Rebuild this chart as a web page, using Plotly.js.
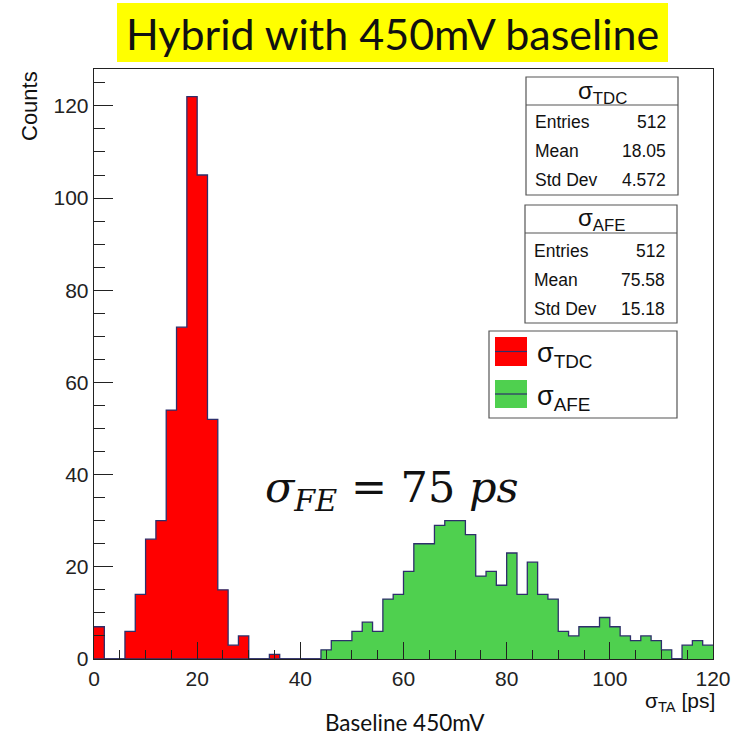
<!DOCTYPE html>
<html>
<head>
<meta charset="utf-8">
<script src="https://cdn.plot.ly/plotly-3.0.1.min.js"></script>
<style>
  html, body { margin: 0; padding: 0; background: #ffffff; }
  #chart { width: 748px; height: 741px; }
</style>
</head>
<body>
<div id="chart"></div>
<script>
// ---- data ----
// bin edges of sigma_TA [ps] (2 ps wide bins from 0 to 120)
const binEdges = [0,2,4,6,8,10,12,14,16,18,20,22,24,26,28,30,32,34,36,38,40,42,44,46,48,50,52,54,56,58,
                  60,62,64,66,68,70,72,74,76,78,80,82,84,86,88,90,92,94,96,98,100,102,104,106,108,110,112,114,116,118,120];
// counts per bin, sigma_TDC
const tdcCounts = [7,0,0,6,14,26,30,54,72,122,105,52,15,3,5,0,0,1,0,0,0,0,0,0,0,0,0,0,0,0,
                   0,0,0,0,0,0,0,0,0,0,0,0,0,0,0,0,0,0,0,0,0,0,0,0,0,0,0,0,0,0];
// counts per bin, sigma_AFE
const afeCounts = [0,0,0,0,0,0,0,0,0,0,0,0,0,0,0,0,0,0,0,0,0,0,2,4,4,6,8,6,13,14,
                   19,25,25,29,30,30,27,18,19,16,23,14,21,14,13,6,5,7,7,9,7,5,4,5,4,2,0,3,4,3];
const tdcStats = {name: "TDC", entries: "512", mean: "18.05", std: "4.572"};
const afeStats = {name: "AFE", entries: "512", mean: "75.58", std: "15.18"};
const xTicks = [0,20,40,60,80,100,120];
const yTicks = [0,20,40,60,80,100,120];

// ---- geometry helpers (pixel -> paper) ----
const L = 94, R = 713, T = 69, B = 659;
const px = x => (x - L) / (R - L);
const py = y => (B - y) / (B - T);

const lineCol = "#2e2f6b";
function histTrace(counts, fill) {
  return {
    type: "scatter", mode: "lines",
    x: binEdges, y: counts.concat([counts[counts.length - 1]]),
    line: {shape: "hv", color: lineCol, width: 1.3},
    fill: "tozeroy", fillcolor: fill,
    hoverinfo: "skip", showlegend: false
  };
}
const traces = [histTrace(tdcCounts, "#ff0000"), histTrace(afeCounts, "#4fd04f")];

const helv = "Liberation Sans, Arial, sans-serif";
const shapes = [];
const annotations = [];

function rect(x0, y0, x1, y1, fill, lc) {
  shapes.push({type: "rect", xref: "paper", yref: "paper", x0: px(x0), x1: px(x1), y0: py(y0), y1: py(y1),
               fillcolor: fill, line: {color: lc, width: lc ? 1.2 : 0}, layer: "above"});
}
function hline(x0, x1, y, col, w) {
  shapes.push({type: "line", xref: "paper", yref: "paper", x0: px(x0), x1: px(x1), y0: py(y), y1: py(y),
               line: {color: col, width: w}, layer: "above"});
}
function txt(text, x, y, xa, size, fam, extra) {
  annotations.push(Object.assign({text: text, xref: "paper", yref: "paper", x: px(x), y: py(y),
    xanchor: xa, yanchor: "middle", showarrow: false,
    font: {family: fam || helv, size: size, color: "#111"}}, extra || {}));
}

// title
rect(117, 3, 668, 62, "#ffff00", null);
txt("Hybrid with 450mV baseline", 392.5, 33, "center", 43, "Lato, sans-serif");

// stats boxes
function statBox(s, x0, y0, x1, y1) {
  rect(x0, y0, x1, y1, "#ffffff", "#555555");
  hline(x0, x1, y0 + 28, "#555555", 1.2);
  txt("σ<sub>" + s.name + "</sub>", (x0 + x1) / 2, y0 + 15, "center", 24);
  const rows = [["Entries", s.entries], ["Mean", s.mean], ["Std Dev", s.std]];
  rows.forEach((r, i) => {
    const yy = y0 + 45.5 + i * 29;
    txt(r[0], x0 + 7, yy, "left", 17.5);
    txt(r[1], x1 - 10, yy, "right", 17.5);
  });
}
statBox(tdcStats, 526, 77, 678, 195);
statBox(afeStats, 525, 205, 677, 323);

// legend
rect(489, 331, 677, 418, "#ffffff", "#555555");
rect(495, 337, 527, 366, "#ff0000", null);
hline(495, 527, 351.5, lineCol, 1.2);
rect(495, 380, 527, 408, "#4fd04f", null);
hline(495, 527, 394, lineCol, 1.2);
txt("σ<sub>TDC</sub>", 535, 355, "left", 27);
txt("σ<sub>AFE</sub>", 535, 398, "left", 27);

// formula
txt("<i>σ</i><sub><i>FE</i></sub> = 75 <i>ps</i>", 263, 490, "left", 43, "DejaVu Serif, serif");

// axis titles
txt("Counts", 29, 106, "center", 22, helv, {textangle: -90});
txt("σ<sub>TA</sub> [ps]", 717, 702, "right", 21);
txt("Baseline 450mV", 405, 722, "center", 22.5, "Lato, sans-serif");

const layout = {
  width: 748, height: 741,
  margin: {l: L, r: 748 - R, t: T, b: 741 - B, pad: 0},
  paper_bgcolor: "#ffffff", plot_bgcolor: "#ffffff",
  showlegend: false,
  xaxis: {
    range: [0, 120], tickvals: xTicks, ticktext: xTicks.map(String),
    ticks: "inside", ticklen: 17, tickwidth: 1, tickcolor: "#222",
    minor: {dtick: 5, ticks: "inside", ticklen: 9, tickcolor: "#222", showgrid: false},
    showline: true, linecolor: "#222", linewidth: 1.3, mirror: true,
    showgrid: false, zeroline: false,
    tickfont: {family: helv, size: 21, color: "#222"}, layer: "above traces"
  },
  yaxis: {
    range: [0, 128], tickvals: yTicks, ticktext: yTicks.map(String),
    ticks: "inside", ticklen: 19, tickwidth: 1, tickcolor: "#222",
    minor: {dtick: 5, ticks: "inside", ticklen: 11, tickcolor: "#222", showgrid: false},
    showline: true, linecolor: "#222", linewidth: 1.3, mirror: true,
    showgrid: false, zeroline: false,
    tickfont: {family: helv, size: 21, color: "#222"}, layer: "above traces"
  },
  shapes: shapes,
  annotations: annotations
};

Plotly.newPlot("chart", traces, layout, {staticPlot: true, displayModeBar: false});
</script>
</body>
</html>
